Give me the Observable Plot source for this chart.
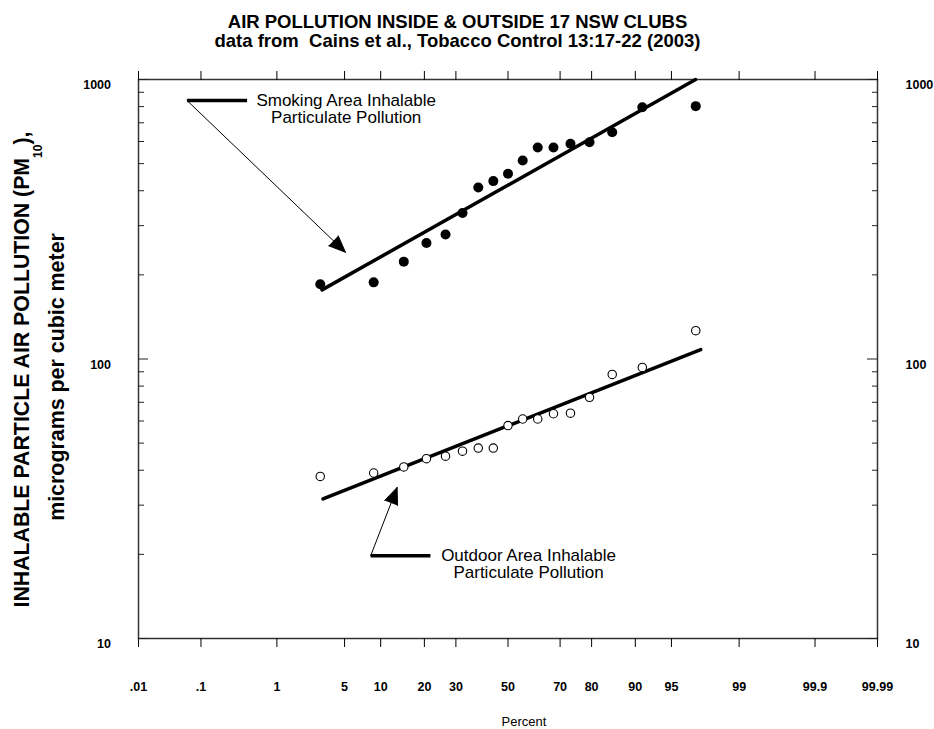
<!DOCTYPE html>
<html><head><meta charset="utf-8">
<script src="https://cdn.jsdelivr.net/npm/d3@7"></script>
<script src="https://cdn.jsdelivr.net/npm/@observablehq/plot@0.6"></script>
<style>
body{margin:0;background:#fff}
#chart{width:934px;height:729px}
</style>
</head><body><div id="chart"></div>
<script>
// ---- data ----
const percentTicks = [0.01, 0.1, 1, 5, 10, 20, 30, 50, 70, 80, 90, 95, 99, 99.9, 99.99];
const percentTickLabels = [".01", ".1", "1", "5", "10", "20", "30", "50", "70", "80", "90", "95", "99", "99.9", "99.99"];
const yMajorTicks = [10, 100, 1000];
const yMinorTicks = [20, 30, 40, 50, 60, 70, 80, 90, 200, 300, 400, 500, 600, 700, 800, 900];

const plotPercent = [2.94, 8.82, 14.71, 20.59, 26.47, 32.35, 38.24, 44.12, 50, 55.88, 61.76, 67.65, 73.53, 79.41, 85.29, 91.18, 97.06];
const smokingValues = [185, 188, 223, 260, 279, 333, 411, 433, 460, 513, 571, 571, 589, 596, 648, 796, 803];
const outdoorValues = [38.0, 39.1, 41.1, 44.0, 44.9, 46.8, 48.0, 48.0, 57.8, 61.0, 61.0, 63.7, 64.0, 72.9, 88.1, 93.3, 126.3];

const smokingFitPercent = [3.06, 97.05];
const smokingFitValues = [176.7, 1000];
const outdoorFitPercent = [3.13, 97.38];
const outdoorFitValues = [31.6, 108];

const annotationLabels = ["Smoking Area Inhalable\nParticulate Pollution", "Outdoor Area Inhalable\nParticulate Pollution"];
const labelPercent = [5.17, 58.2];
const labelValue = [700, 16.4];
const barStartPercent = [0.0618, 8.35];
const barEndPercent = [0.4315, 21.75];
const barValue = [841, 19.78];
const arrowTipPercent = [5.09, 13.22];
const arrowTipValue = [240.9, 34.72];

const titleText = "AIR POLLUTION INSIDE & OUTSIDE 17 NSW CLUBS\ndata from  Cains et al., Tobacco Control 13:17-22 (2003)";
const yTitle1 = "INHALABLE PARTICLE AIR POLLUTION (PM10),";
const yTitle2 = "micrograms per cubic meter";
const xTitle = "Percent";

// ---- probability (probit) transform ----
function probit(p) {
  const a = [-3.969683028665376e+01, 2.209460984245205e+02, -2.759285104469687e+02, 1.383577518672690e+02, -3.066479806614716e+01, 2.506628277459239e+00];
  const b = [-5.447609879822406e+01, 1.615858368580409e+02, -1.556989798598866e+02, 6.680131188771972e+01, -1.328068155288572e+01];
  const c = [-7.784894002430293e-03, -3.223964580411365e-01, -2.400758277161838e+00, -2.549732539343734e+00, 4.374664141464968e+00, 2.938163982698783e+00];
  const d = [7.784695709041462e-03, 3.224671290700398e-01, 2.445134137142996e+00, 3.754408661907416e+00];
  const pl = 0.02425, ph = 1 - pl;
  let q, r;
  if (p < pl) {
    q = Math.sqrt(-2 * Math.log(p));
    return (((((c[0]*q+c[1])*q+c[2])*q+c[3])*q+c[4])*q+c[5]) / ((((d[0]*q+d[1])*q+d[2])*q+d[3])*q+1);
  }
  if (p <= ph) {
    q = p - 0.5; r = q * q;
    return (((((a[0]*r+a[1])*r+a[2])*r+a[3])*r+a[4])*r+a[5])*q / (((((b[0]*r+b[1])*r+b[2])*r+b[3])*r+b[4])*r+1);
  }
  q = Math.sqrt(-2 * Math.log(1 - p));
  return -(((((c[0]*q+c[1])*q+c[2])*q+c[3])*q+c[4])*q+c[5]) / ((((d[0]*q+d[1])*q+d[2])*q+d[3])*q+1);
}
const Z = pct => probit(pct / 100);

// ---- tables ----
const smoking = plotPercent.map((p, i) => ({z: Z(p), v: smokingValues[i]}));
const outdoor = plotPercent.map((p, i) => ({z: Z(p), v: outdoorValues[i]}));
const smokingFit = smokingFitPercent.map((p, i) => ({z: Z(p), v: smokingFitValues[i]}));
const outdoorFit = outdoorFitPercent.map((p, i) => ({z: Z(p), v: outdoorFitValues[i]}));
const annots = annotationLabels.map((t, i) => ({
  text: t, lz: Z(labelPercent[i]), lv: labelValue[i],
  bz1: Z(barStartPercent[i]), bz2: Z(barEndPercent[i]), bv: barValue[i],
  az: Z(arrowTipPercent[i]), av: arrowTipValue[i]
}));
const zTicks = percentTicks.map(Z);
const tickLabel = d => percentTickLabels[zTicks.findIndex(t => Math.abs(t - d) < 1e-9)];

const W = 934, H = 729, ML = 138, MR = 57, MT = 79, MB = 91;
const FW = W - ML - MR;

const chart = Plot.plot({
  width: W, height: H,
  marginLeft: ML, marginRight: MR, marginTop: MT, marginBottom: MB,
  style: {fontFamily: "'Liberation Sans', Arial, sans-serif", background: "white", color: "black", overflow: "visible"},
  x: {type: "linear", domain: [Z(0.01), Z(99.99)]},
  y: {type: "log", domain: [10, 1000]},
  marks: [
    Plot.frame({stroke: "#333", strokeWidth: 1.5}),
    // bottom & top axes (probability scale)
    Plot.axisX(zTicks, {anchor: "bottom", tickSize: 9, tickPadding: 35, tickFormat: tickLabel, fontSize: 12.5, fontWeight: "bold", label: null}),
    Plot.axisX(zTicks, {anchor: "top", tickSize: 9, tickFormat: () => "", label: null}),
    // left & right log axes (labels)
    Plot.axisY(yMajorTicks, {anchor: "left", tickSize: 0, tickPadding: 27.5, dy: 5.5, tickFormat: d => String(d), fontSize: 12.5, fontWeight: "bold", label: null}),
    Plot.axisY(yMajorTicks, {anchor: "right", tickSize: 0, tickPadding: 28, dy: 5.5, tickFormat: d => String(d), fontSize: 12.5, fontWeight: "bold", label: null}),
    // inward ticks
    Plot.tickY(yMajorTicks, {y: d => d, insetRight: FW - 10, stroke: "#222"}),
    Plot.tickY(yMinorTicks, {y: d => d, insetRight: FW - 6, stroke: "#222"}),
    Plot.tickY(yMajorTicks, {y: d => d, insetLeft: FW - 10, stroke: "#222"}),
    Plot.tickY(yMinorTicks, {y: d => d, insetLeft: FW - 5, stroke: "#222"}),
    // fitted lines
    Plot.line(smokingFit, {x: "z", y: "v", stroke: "black", strokeWidth: 3.5}),
    Plot.line(outdoorFit, {x: "z", y: "v", stroke: "black", strokeWidth: 3.5}),
    // points
    Plot.dot(smoking, {x: "z", y: "v", r: 5, fill: "black", stroke: "none"}),
    Plot.dot(outdoor, {x: "z", y: "v", r: 4.2, fill: "white", stroke: "black", strokeWidth: 1.1}),
    // annotations
    Plot.link(annots, {x1: "bz1", x2: "bz2", y1: "bv", y2: "bv", stroke: "black", strokeWidth: 3.5}),
    Plot.arrow(annots, {x1: "bz1", y1: "bv", x2: "az", y2: "av", stroke: "black", fill: "black", strokeWidth: 1, headLength: 27, headAngle: 45}),
    Plot.text(annots, {x: "lz", y: "lv", text: "text", textAnchor: "middle", lineAnchor: "bottom", lineHeight: 1.0, fontSize: 17, fill: "black"}),
    // titles
    Plot.text([titleText], {frameAnchor: "top-left", dx: 457 - ML, dy: 46.7 - MT, text: d => d, textAnchor: "middle", lineAnchor: "bottom", lineHeight: 1.02, fontSize: 18.5, fontWeight: "bold", fill: "black"}),
    Plot.text([yTitle1], {frameAnchor: "left", rotate: -90, dx: 28.5 - ML, dy: 10.5, text: d => d, textAnchor: "middle", lineAnchor: "bottom", fontSize: 21.3, fontWeight: "bold", fill: "black"}),
    Plot.text([yTitle2], {frameAnchor: "left", rotate: -90, dx: 63.3 - ML, dy: 18, text: d => d, textAnchor: "middle", lineAnchor: "bottom", fontSize: 21.4, fontWeight: "bold", fill: "black"}),
    Plot.text([xTitle], {frameAnchor: "bottom", dx: 16, dy: 83, text: d => d, textAnchor: "middle", lineAnchor: "middle", fontSize: 13, fill: "black"})
  ]
});

// subscript for PM10
chart.querySelectorAll("text").forEach(t => {
  if (t.textContent === yTitle1) {
    const ns = "http://www.w3.org/2000/svg";
    t.textContent = "INHALABLE PARTICLE AIR POLLUTION (PM";
    const sub = document.createElementNS(ns, "tspan");
    sub.setAttribute("font-size", "12");
    sub.setAttribute("dy", "13");
    sub.textContent = "10";
    const rest = document.createElementNS(ns, "tspan");
    rest.setAttribute("dy", "-13");
    rest.textContent = "),";
    t.appendChild(sub); t.appendChild(rest);
  }
});

document.getElementById("chart").appendChild(chart);
</script>
</body></html>
